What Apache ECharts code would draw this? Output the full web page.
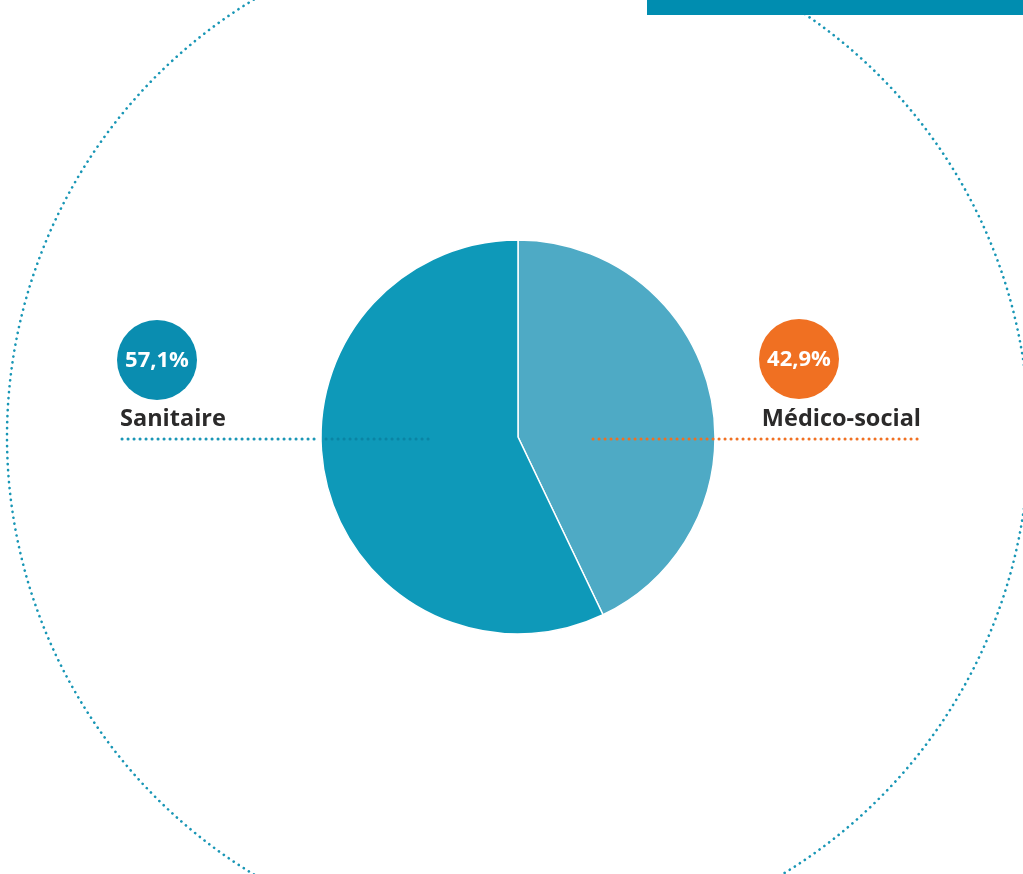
<!DOCTYPE html>
<html><head><meta charset="utf-8">
<script src="https://cdn.jsdelivr.net/npm/echarts@6/dist/echarts.min.js"></script>
<style>html,body{margin:0;padding:0;background:#fff}#c{width:1023px;height:874px}</style>
</head><body><div id="c"></div>
<script>
const categories = ['Médico-social', 'Sanitaire'];
const values = [42.9, 57.1];
const sliceColors = ['#4eaac5', '#0e99b9'];
const badgeColors = ['#f07022', '#0a8db0'];

const fmt = v => v.toFixed(1).replace('.', ',') + '%';
const chart = echarts.init(document.getElementById('c'));
const font = '"Open Sans", sans-serif';
const dash = { lineWidth: 3, lineDash: [0.1, 5.9], lineCap: 'round' };

function badge(i, cx, cy, nameX, align) {
  return [
    { type: 'circle', z: 50, shape: { cx: cx, cy: cy, r: 40 }, style: { fill: badgeColors[i] } },
    { type: 'text', z: 51, x: cx, y: cy + 1, style: { text: fmt(values[i]), fill: '#fff', font: '700 22px ' + font, align: 'center', verticalAlign: 'middle' } },
    { type: 'text', z: 51, x: nameX, y: 419, style: { text: categories[i], fill: '#2b2a2a', font: '700 23.5px ' + font, align: align, verticalAlign: 'middle' } }
  ];
}

chart.setOption({
  animation: false,
  graphic: [
    { type: 'circle', z: -10, shape: { cx: 518, cy: 437, r: 511 }, style: Object.assign({ fill: 'none', stroke: '#1896b5' }, dash, { lineWidth: 2.6 }) },
    { type: 'rect', z: 40, shape: { x: 647, y: 0, width: 376, height: 15 }, style: { fill: '#008db0' } },
    ...badge(1, 157, 360, 120, 'left'),
    ...badge(0, 799, 359, 921, 'right'),
    { type: 'line', z: 60, shape: { x1: 122, y1: 439, x2: 320, y2: 439 }, style: Object.assign({ stroke: '#1a96b6' }, dash) },
    { type: 'line', z: 60, shape: { x1: 326, y1: 439, x2: 430, y2: 439 }, style: Object.assign({ stroke: '#0a84a4' }, dash) },
    { type: 'line', z: 60, shape: { x1: 593, y1: 439, x2: 921, y2: 439 }, style: Object.assign({ stroke: '#f07022' }, dash) }
  ],
  series: [{
    type: 'pie',
    center: [518, 437],
    radius: [0, 197],
    startAngle: 90,
    clockwise: true,
    label: { show: false },
    labelLine: { show: false },
    emphasis: { disabled: true },
    itemStyle: { borderColor: '#fff', borderWidth: 1.5 },
    data: categories.map((n, i) => ({ name: n, value: values[i], itemStyle: { color: sliceColors[i] } }))
  }]
});
</script></body></html>
